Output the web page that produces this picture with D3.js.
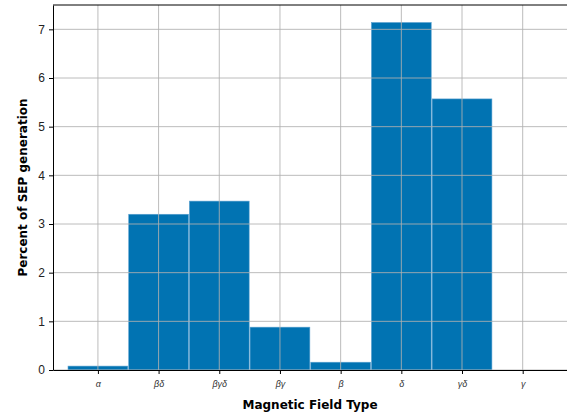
<!DOCTYPE html>
<html>
<head>
<meta charset="utf-8">
<script src="https://cdn.jsdelivr.net/npm/d3@7"></script>
<style>
    body { margin: 0; background: #fff; }
    svg { display: block; font-family: "DejaVu Sans", sans-serif; }
</style>
</head>
<body>
<svg id="chart" width="567" height="418"></svg>
<script>
"use strict";

const categories = ["α", "βδ", "βγδ", "βγ", "β", "δ", "γδ", "γ"];
const percents = [0.08, 3.20, 3.47, 0.88, 0.16, 7.14, 5.57, 0];
const yTicks = [0, 1, 2, 3, 4, 5, 6, 7];

const W = 567, H = 418;
const margin = { left: 53, right: 0, top: 5, bottom: 48 };

const svg = d3.select("#chart");

const x = d3.scaleLinear()
    .domain([-0.74, 7.73])
    .range([margin.left, W - margin.right]);

const y = d3.scaleLinear()
    .domain([0, 7.5])
    .range([H - margin.bottom, margin.top]);

const barW = 0.985;

// bars
svg.append("g")
    .selectAll("rect")
    .data(percents)
    .join("rect")
    .attr("x", (d, i) => x(i - barW / 2))
    .attr("width", (d, i) => x(i + barW / 2) - x(i - barW / 2))
    .attr("y", d => y(d))
    .attr("height", d => y(0) - y(d))
    .attr("fill", "#0173b2")
    .attr("stroke", "#5aa0cf")
    .attr("stroke-width", 0.6);

// grid on top of bars
const grid = svg.append("g")
    .attr("stroke", "#b0b0b0")
    .attr("stroke-opacity", 0.85)
    .attr("stroke-width", 1);

grid.selectAll(".gx")
    .data(categories)
    .join("line")
    .attr("x1", (d, i) => x(i)).attr("x2", (d, i) => x(i))
    .attr("y1", y.range()[0]).attr("y2", y.range()[1]);

grid.selectAll(".gy")
    .data(yTicks)
    .join("line")
    .attr("y1", d => y(d)).attr("y2", d => y(d))
    .attr("x1", x.range()[0]).attr("x2", x.range()[1]);

// axes
const xAxis = d3.axisBottom(x)
    .tickValues(d3.range(categories.length))
    .tickFormat(i => categories[i])
    .tickSize(4)
    .tickPadding(7)
    .tickSizeOuter(0);

const gx = svg.append("g")
    .attr("transform", `translate(0,${y(0)})`)
    .call(xAxis);
gx.select(".domain").attr("stroke", "#000").attr("stroke-width", 1);
gx.selectAll(".tick line").attr("stroke", "#000");
gx.selectAll(".tick text")
    .attr("font-size", 9)
    .attr("font-style", "italic")
    .attr("fill", "#333");

const yAxis = d3.axisLeft(y)
    .tickValues(yTicks)
    .tickSize(4)
    .tickPadding(4)
    .tickSizeOuter(0);

const gy = svg.append("g")
    .attr("transform", `translate(${x.range()[0]},0)`)
    .call(yAxis);
gy.select(".domain").attr("stroke", "#000").attr("stroke-width", 1);
gy.selectAll(".tick line").attr("stroke", "#000");
gy.selectAll(".tick text")
    .attr("font-size", 12)
    .attr("fill", "#222");

// top spine
svg.append("line")
    .attr("x1", x.range()[0]).attr("x2", x.range()[1])
    .attr("y1", y.range()[1]).attr("y2", y.range()[1])
    .attr("stroke", "#000");

// labels
svg.append("text")
    .attr("x", 310)
    .attr("y", 409)
    .attr("text-anchor", "middle")
    .attr("font-size", 12)
    .attr("font-weight", "bold")
    .text("Magnetic Field Type");

svg.append("text")
    .attr("transform", `translate(27,${(y.range()[0] + y.range()[1]) / 2}) rotate(-90)`)
    .attr("text-anchor", "middle")
    .attr("font-size", 12)
    .attr("font-weight", "bold")
    .text("Percent of SEP generation");
</script>
</body>
</html>
